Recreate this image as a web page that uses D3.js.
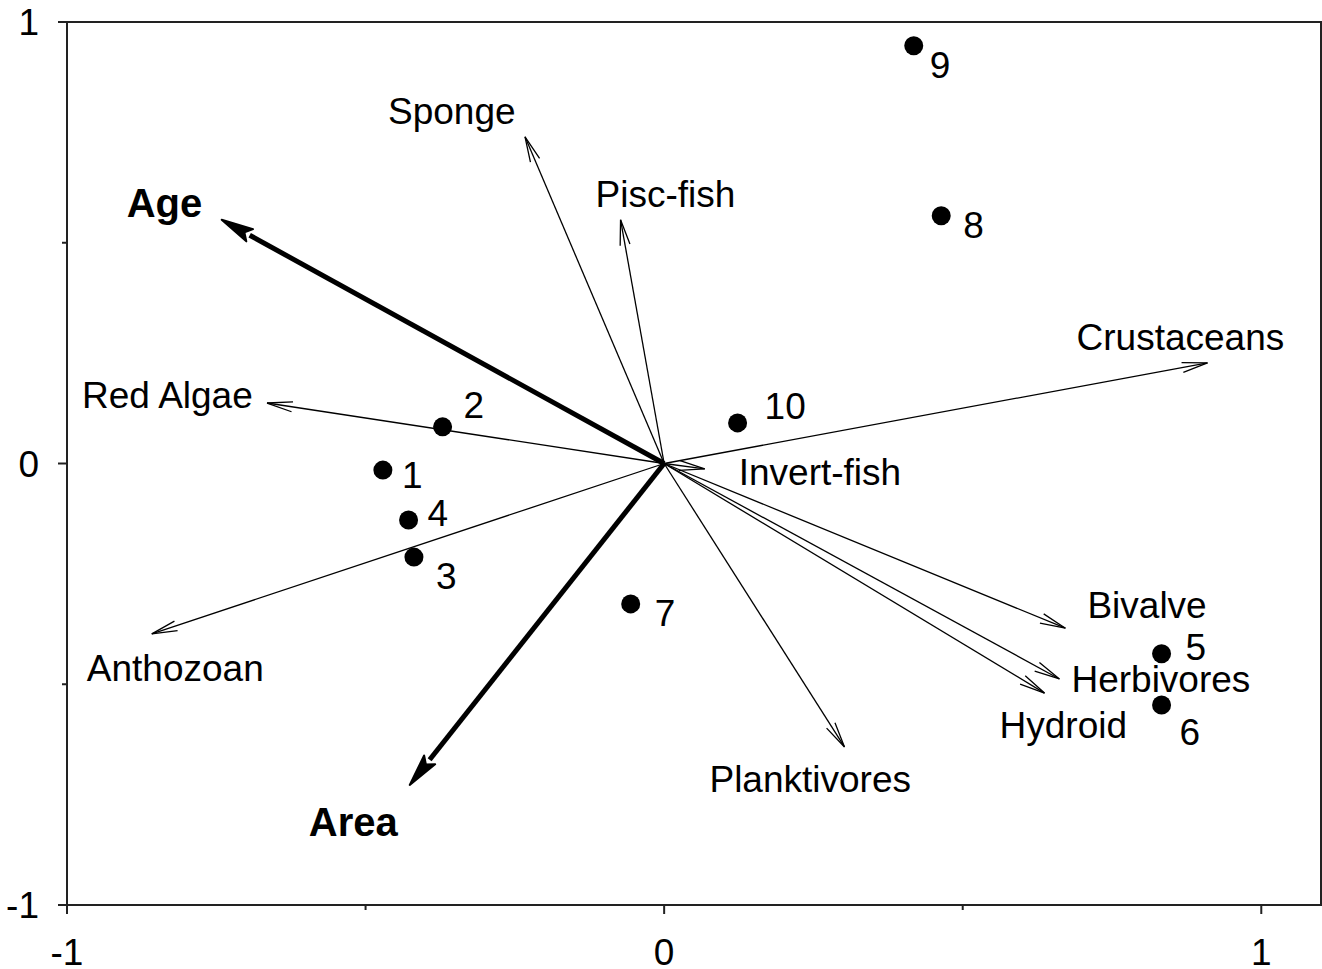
<!DOCTYPE html>
<html>
<head>
<meta charset="utf-8">
<script src="https://cdn.jsdelivr.net/npm/d3@7/dist/d3.min.js"></script>
<style>
  body { margin: 0; background: #fff; }
  text { font-family: "Liberation Sans", Arial, sans-serif; fill: #000; }
</style>
</head>
<body>
<div id="chart"></div>
<script>
// site scores
var sites = ["1", "2", "3", "4", "5", "6", "7", "8", "9", "10"];
var siteX = [-0.471, -0.371, -0.419, -0.428, 0.833, 0.833, -0.056, 0.464, 0.418, 0.123];
var siteY = [-0.015, 0.083, -0.212, -0.128, -0.431, -0.547, -0.318, 0.561, 0.946, 0.092];

// environmental vectors (bold) and species vectors
var envNames = ["Age", "Area"];
var envX = [-0.741, -0.426];
var envY = [0.552, -0.728];

var spNames = ["Sponge", "Pisc-fish", "Crustaceans", "Red Algae", "Anthozoan", "Invert-fish",
               "Bivalve", "Herbivores", "Hydroid", "Planktivores"];
var spX = [-0.233, -0.073, 0.910, -0.665, -0.858, 0.068, 0.672, 0.662, 0.637, 0.302];
var spY = [0.740, 0.552, 0.228, 0.137, -0.386, -0.012, -0.373, -0.488, -0.520, -0.642];

var majorTicks = [-1, 0, 1];
var minorTicks = [-0.5, 0.5];

// label placement (pixels from the mark)
var siteLabelOff = [[19, 18], [21, -9], [22, 32], [19, 6], [24, 6], [18, 40], [24, 22], [22, 22], [16, 32], [27, -4]];
var envLabelOff = [[-95, -3], [-101, 51]];
var spLabelOff = [[-137, -13], [-25, -13], [-131, -13], [-185, 5], [-65, 47], [34, 16],
                  [22, -10], [12, 13], [-45, 45], [-135, 45]];

var W = 1322, H = 969;
var margin = {top: 22, right: 1, bottom: 64, left: 67};
var width = W - margin.left - margin.right;
var height = H - margin.top - margin.bottom;

var svg = d3.select("#chart").append("svg")
  .attr("width", W)
  .attr("height", H);
var g = svg.append("g")
  .attr("transform", "translate(" + margin.left + "," + margin.top + ")");

var x = d3.scaleLinear().domain([-1, 1.1]).range([0, width]);
var y = d3.scaleLinear().domain([-1, 1]).range([height, 0]);

// frame
var frameColor = "#222";
g.append("rect")
  .attr("x", 0).attr("y", 0)
  .attr("width", width).attr("height", height)
  .attr("fill", "none").attr("stroke", frameColor).attr("stroke-width", 2);

// ticks
g.selectAll(".xmaj").data(majorTicks).enter().append("line")
  .attr("x1", d => x(d)).attr("x2", d => x(d))
  .attr("y1", height).attr("y2", height + 9)
  .attr("stroke", frameColor).attr("stroke-width", 2);
g.selectAll(".xmin").data(minorTicks).enter().append("line")
  .attr("x1", d => x(d)).attr("x2", d => x(d))
  .attr("y1", height).attr("y2", height + 5)
  .attr("stroke", frameColor).attr("stroke-width", 2);
g.selectAll(".ymaj").data(majorTicks).enter().append("line")
  .attr("x1", -9).attr("x2", 0)
  .attr("y1", d => y(d)).attr("y2", d => y(d))
  .attr("stroke", frameColor).attr("stroke-width", 2);
g.selectAll(".ymin").data(minorTicks).enter().append("line")
  .attr("x1", -5).attr("x2", 0)
  .attr("y1", d => y(d)).attr("y2", d => y(d))
  .attr("stroke", frameColor).attr("stroke-width", 2);

g.selectAll(".xlab").data(majorTicks).enter().append("text")
  .attr("x", d => x(d)).attr("y", height + 60)
  .attr("text-anchor", "middle")
  .style("font-size", "37px")
  .text(d => d);
g.selectAll(".ylab").data(majorTicks).enter().append("text")
  .attr("x", -28).attr("y", d => y(d))
  .attr("dy", "0.36em")
  .attr("text-anchor", "end")
  .style("font-size", "37px")
  .text(d => d);

var ox = x(0), oy = y(0);

// species vectors: thin lines with open heads
spNames.forEach(function(name, i) {
  var tx = x(spX[i]), ty = y(spY[i]);
  var ang = Math.atan2(ty - oy, tx - ox);
  var L = 26, a = 11 * Math.PI / 180;
  g.append("line")
    .attr("x1", ox).attr("y1", oy).attr("x2", tx).attr("y2", ty)
    .attr("stroke", "#000").attr("stroke-width", 1.3);
  g.append("path")
    .attr("d", "M" + (tx - L * Math.cos(ang - a)) + "," + (ty - L * Math.sin(ang - a)) +
               "L" + tx + "," + ty +
               "L" + (tx - L * Math.cos(ang + a)) + "," + (ty - L * Math.sin(ang + a)))
    .attr("fill", "none").attr("stroke", "#000").attr("stroke-width", 1.3);
  g.append("text")
    .attr("x", tx + spLabelOff[i][0]).attr("y", ty + spLabelOff[i][1])
    .style("font-size", "37px")
    .text(name);
});

// environmental vectors: thick lines with filled heads
envNames.forEach(function(name, i) {
  var tx = x(envX[i]), ty = y(envY[i]);
  var ang = Math.atan2(ty - oy, tx - ox);
  var L = 32, hw = 7;
  var bx = tx - L * Math.cos(ang), by = ty - L * Math.sin(ang);
  g.append("line")
    .attr("x1", ox).attr("y1", oy).attr("x2", bx).attr("y2", by)
    .attr("stroke", "#000").attr("stroke-width", 5);
  g.append("path")
    .attr("d", "M" + tx + "," + ty +
               "L" + (bx + hw * Math.sin(ang)) + "," + (by - hw * Math.cos(ang)) +
               "L" + (tx - (L - 6) * Math.cos(ang)) + "," + (ty - (L - 6) * Math.sin(ang)) +
               "L" + (bx - hw * Math.sin(ang)) + "," + (by + hw * Math.cos(ang)) + "Z")
    .attr("fill", "#000").attr("stroke", "#000").attr("stroke-width", 2)
    .attr("stroke-linejoin", "round");
  g.append("text")
    .attr("x", tx + envLabelOff[i][0]).attr("y", ty + envLabelOff[i][1])
    .style("font-size", "40px").style("font-weight", "bold")
    .text(name);
});

// sites
g.selectAll(".site").data(sites).enter().append("circle")
  .attr("cx", (d, i) => x(siteX[i]))
  .attr("cy", (d, i) => y(siteY[i]))
  .attr("r", 9.5)
  .attr("fill", "#000");
g.selectAll(".sitelab").data(sites).enter().append("text")
  .attr("x", (d, i) => x(siteX[i]) + siteLabelOff[i][0])
  .attr("y", (d, i) => y(siteY[i]) + siteLabelOff[i][1])
  .style("font-size", "37px")
  .text(d => d);
</script>
</body>
</html>
